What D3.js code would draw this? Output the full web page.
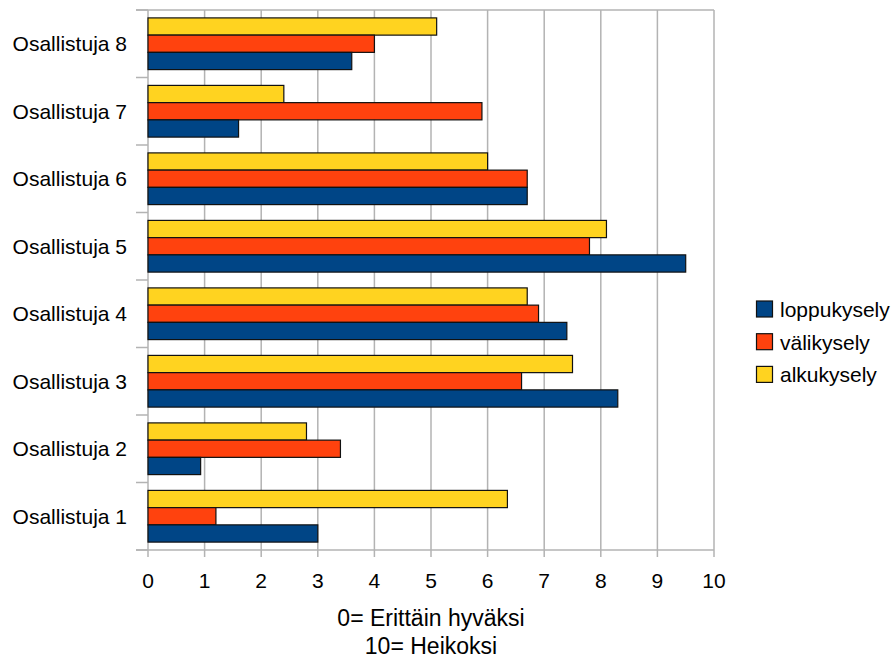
<!DOCTYPE html>
<html>
<head>
<meta charset="utf-8">
<script src="https://cdn.jsdelivr.net/npm/d3@7"></script>
<style>
  html, body { margin: 0; padding: 0; background: #fff; }
  svg { display: block; }
  text { font-family: "Liberation Sans", Arial, sans-serif; fill: #000; }
</style>
</head>
<body>
<svg id="chart" width="895" height="658"></svg>
<script>
// ---- Data ----
const categories = ["Osallistuja 8", "Osallistuja 7", "Osallistuja 6", "Osallistuja 5",
                    "Osallistuja 4", "Osallistuja 3", "Osallistuja 2", "Osallistuja 1"];
// drawing order within a group, top to bottom
const seriesNames = ["alkukysely", "välikysely", "loppukysely"];
const alkukysely  = [5.1, 2.4, 6.0, 8.1, 6.7, 7.5, 2.8, 6.35];
const valikysely  = [4.0, 5.9, 6.7, 7.8, 6.9, 6.6, 3.4, 1.2];
const loppukysely = [3.6, 1.6, 6.7, 9.5, 7.4, 8.3, 0.93, 3.0];
const xTicks = [0, 1, 2, 3, 4, 5, 6, 7, 8, 9, 10];
const legendNames = ["loppukysely", "välikysely", "alkukysely"];
const titleLines = ["0= Erittäin hyväksi", "10= Heikoksi"];

const seriesValues = { "alkukysely": alkukysely, "välikysely": valikysely, "loppukysely": loppukysely };
const colors = { "loppukysely": "#004586", "välikysely": "#ff420e", "alkukysely": "#ffd320" };

// ---- Layout ----
const svg = d3.select("#chart");
const plot = { left: 148, right: 714, top: 10, bottom: 550 };
const gridColor = "#b3b3b3";

const x = d3.scaleLinear().domain([0, 10]).range([plot.left, plot.right]);
const y0 = d3.scaleBand().domain(categories).range([plot.top, plot.bottom])
  .paddingInner(0.234).paddingOuter(0.117);
const y1 = d3.scaleBand().domain(seriesNames).range([0, y0.bandwidth()]);

// vertical gridlines (with tick extension below)
svg.append("g").selectAll("line").data(xTicks).join("line")
  .attr("x1", d => x(d)).attr("x2", d => x(d))
  .attr("y1", plot.top).attr("y2", plot.bottom + 7)
  .attr("stroke", gridColor).attr("stroke-width", 1.5);

// top border + horizontal axis
[plot.top, plot.bottom].forEach(yy => {
  svg.append("line")
    .attr("x1", plot.left - 12).attr("x2", plot.right)
    .attr("y1", yy).attr("y2", yy)
    .attr("stroke", gridColor).attr("stroke-width", 1.5);
});

// category boundary ticks on the left
const step = y0.step();
const boundaries = d3.range(categories.length + 1).map(i => plot.top + i * step);
svg.append("g").selectAll("line").data(boundaries).join("line")
  .attr("x1", plot.left - 12).attr("x2", plot.left)
  .attr("y1", d => d).attr("y2", d => d)
  .attr("stroke", gridColor).attr("stroke-width", 1.5);

// bars
const groups = svg.append("g").selectAll("g").data(categories).join("g")
  .attr("transform", c => `translate(0,${y0(c)})`);
groups.selectAll("rect")
  .data((c, i) => seriesNames.map(s => ({ s, v: seriesValues[s][i] })))
  .join("rect")
  .attr("x", x(0))
  .attr("y", d => y1(d.s))
  .attr("width", d => x(d.v) - x(0))
  .attr("height", y1.bandwidth())
  .attr("fill", d => colors[d.s])
  .attr("stroke", "#111")
  .attr("stroke-width", 1.2);

// category labels
svg.append("g").selectAll("text").data(categories).join("text")
  .attr("x", 127)
  .attr("y", c => y0(c) + y0.bandwidth() / 2)
  .attr("dy", "0.35em")
  .attr("text-anchor", "end")
  .attr("font-size", 21)
  .text(c => c);

// x tick labels
svg.append("g").selectAll("text").data(xTicks).join("text")
  .attr("x", d => x(d))
  .attr("y", 588)
  .attr("text-anchor", "middle")
  .attr("font-size", 21)
  .text(d => d);

// axis title
svg.append("g").selectAll("text").data(titleLines).join("text")
  .attr("x", (plot.left + plot.right) / 2)
  .attr("y", (d, i) => 626 + i * 28)
  .attr("text-anchor", "middle")
  .attr("font-size", 23)
  .text(d => d);

// legend
const legend = svg.append("g").selectAll("g").data(legendNames).join("g")
  .attr("transform", (d, i) => `translate(756.5,${301 + i * 32.7})`);
legend.append("rect")
  .attr("width", 16).attr("height", 16)
  .attr("fill", d => colors[d])
  .attr("stroke", "#111").attr("stroke-width", 1.2);
legend.append("text")
  .attr("x", 23.5).attr("y", 16)
  .attr("font-size", 21)
  .text(d => d);
</script>
</body>
</html>
